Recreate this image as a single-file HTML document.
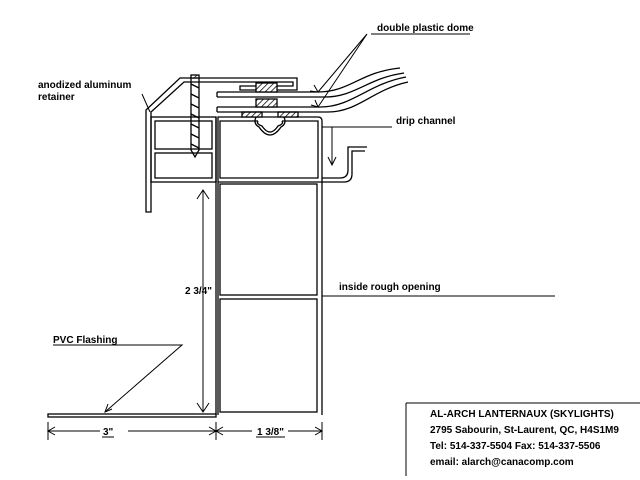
<!DOCTYPE html><html><head><style>body{margin:0;background:#fff}svg{display:block}text{font-family:"Liberation Sans",sans-serif;font-weight:bold;font-size:10px;fill:#000}</style></head><body>
<svg width="640" height="480" viewBox="0 0 640 480" xmlns="http://www.w3.org/2000/svg">
<defs><pattern id="h" width="4" height="4" patternUnits="userSpaceOnUse" patternTransform="rotate(45)"><rect width="4" height="4" fill="#fff"/><line x1="0" y1="0" x2="0" y2="4" stroke="#000" stroke-width="1.5"/></pattern></defs>
<g fill="none" stroke="#000" stroke-width="1.3">
<rect x="151" y="117" width="65" height="65"/>
<rect x="155" y="121" width="57" height="28"/>
<rect x="155" y="153" width="57" height="25"/>
<path d="M218 415 V117 H318 Q322 117 322 121 V178 H340 Q348 178 348 170 V147 H367"/>
<path d="M216 415 V117"/>
<path d="M258 121 H220 V178 H318 V121 H282"/>
<path d="M322 178 V415 M218 182 H322"/>
<rect x="220" y="184" width="97" height="111"/>
<rect x="220" y="299" width="97" height="113"/>
<path d="M322 182 H344 Q352 182 352 174 V151 H365"/>
<path d="M256 117 Q253 124 259 127 Q270 143 281 127 Q287 124 284 117"/>
<path d="M258 121 Q256 124 262 126 Q270 138 278 126 Q284 124 282 121"/>
<rect x="242" y="112" width="20" height="5" fill="url(#h)"/>
<rect x="278" y="112" width="20" height="5" fill="url(#h)"/>
<path d="M146 212 V110 L180 78 H297 V90 H240 V86 H293 V82 H184 L151 112 V212 Z"/>
<path d="M217 92 H318 C350 92 360 72 400 68"/>
<path d="M217 97 H325 C355 97 368 78 404 73"/>
<path d="M217 92 V97"/>
<path d="M217 107 H320 C352 107 368 84 406 77"/>
<path d="M217 112 H328 C358 112 372 90 408 82"/>
<path d="M217 107 V112"/>
<rect x="256" y="83" width="21" height="9" fill="url(#h)"/>
<rect x="256" y="99" width="21" height="8" fill="url(#h)"/>
<rect x="191" y="75" width="8" height="3" fill="url(#h)"/>
<path d="M191 78 V150 L195 157 L199 150 V78"/>
<path d="M191 84 L199 88 M191 94 L199 98 M191 104 L199 108 M191 114 L199 118 M191 124 L199 128 M191 134 L199 138 M191 144 L199 148"/>
<rect x="48" y="414" width="168" height="3"/>
<g stroke-width="1">
<path d="M371 34 H470 M367 34 L318 92 M367 34 L318 107"/>
<path d="M53 345 H182 L105 412"/>
<path d="M142 94 L150 112"/>
<path d="M322 127 H392 M332 127 V165"/>
<path d="M322 296 H555"/>
<path d="M203 190 V412"/>
<path d="M48 422 V440 M216 422 V440 M322 422 V440 M48 431 H100 M128 431 H216 M216 431 H252 M288 431 H322"/>
<path d="M406 403 V476 M406 403 H640"/>
<path d="M102 437 H114 M256 437 H285"/>
</g>
<g stroke-width="1">
<path d="M197 199 L203 190 L209 199"/>
<path d="M197 403 L203 412 L209 403"/>
<path d="M328 157 L332 165 L336 157"/>
<path d="M55 427 L48 431 L55 435 M209 427 L216 431 L209 435 M223 427 L216 431 L223 435 M315 427 L322 431 L315 435"/>
<path d="M310 91 L318 92 L314 85 M311 105 L318 107 L315 100"/>
<path d="M108 404 L105 412 L112 409"/>
</g>
</g>
<text x="377" y="31">double plastic dome</text>
<text x="38" y="88">anodized aluminum</text>
<text x="38" y="100">retainer</text>
<text x="396" y="124">drip channel</text>
<text x="339" y="290">inside rough opening</text>
<text x="185" y="294">2 3/4"</text>
<text x="53" y="343">PVC Flashing</text>
<text x="103" y="435">3"</text>
<text x="257" y="435">1 3/8"</text>
<text x="430" y="417">AL-ARCH LANTERNAUX (SKYLIGHTS)</text>
<text x="430" y="433">2795 Sabourin, St-Laurent, QC, H4S1M9</text>
<text x="430" y="449">Tel: 514-337-5504 Fax: 514-337-5506</text>
<text x="430" y="465">email: alarch@canacomp.com</text>
</svg></body></html>
